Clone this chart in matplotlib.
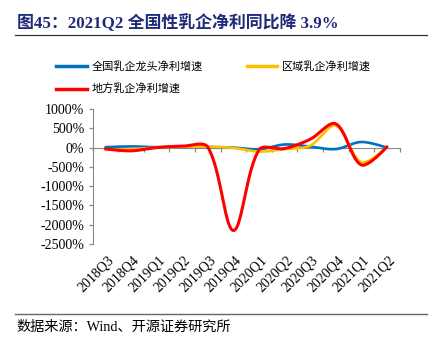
import numpy as np
import matplotlib
matplotlib.use("Agg")
import matplotlib.pyplot as plt
from matplotlib.lines import Line2D

plt.rcParams["font.family"] = ["Liberation Serif", "Noto Sans CJK SC"]

quarters = ["2018Q3", "2018Q4", "2019Q1", "2019Q2", "2019Q3", "2019Q4",
            "2020Q1", "2020Q2", "2020Q3", "2020Q4", "2021Q1", "2021Q2"]

national = [10, 30, 10, 20, 15, 0, -45, 80, 25, -40, 145, -3.9]
regional = [-50, -40, 0, 20, 20, -10, -105, -40, 50, 570, -380, 20]
local = [-35, -85, 0, 35, 10, -2150, -60, -25, 215, 615, -450, 20]

y_ticks = [1000, 500, 0, -500, -1000, -1500, -2000, -2500]

names = ["全国乳企龙头净利增速", "区域乳企净利增速", "地方乳企净利增速"]
colors = ["#0070C0", "#FFC000", "#FF0000"]

# pixel scale of the plot area, used so the smoothing behaves like on screen
PX_X, PX_Y = 25.6, 19.3 / 500


def smooth(vals, t=1 / 3, n=40):
    p = np.column_stack([np.arange(len(vals)) * PX_X, np.asarray(vals, float) * PX_Y])
    m = len(p)
    before = p.copy()
    after = p.copy()
    for i in range(1, m - 1):
        d01 = np.linalg.norm(p[i] - p[i - 1])
        d12 = np.linalg.norm(p[i + 1] - p[i])
        tan = p[i + 1] - p[i - 1]
        before[i] = p[i] - t * d01 / (d01 + d12) * tan
        after[i] = p[i] + t * d12 / (d01 + d12) * tan
    xs, ys = [], []
    s = np.linspace(0, 1, n)[:, None]
    for i in range(m - 1):
        b = ((1 - s) ** 3) * p[i] + 3 * ((1 - s) ** 2) * s * after[i] \
            + 3 * (1 - s) * s ** 2 * before[i + 1] + s ** 3 * p[i + 1]
        xs.append(b[:, 0] / PX_X)
        ys.append(b[:, 1] / PX_Y)
    return np.concatenate(xs), np.concatenate(ys)


fig = plt.figure(figsize=(4.39, 3.48), dpi=100)
ax = fig.add_axes([0.2112, 0.2989, 0.6993, 0.3879])

handles = []
for vals, name, c in zip([national, regional, local], names, colors):
    sx, sy = smooth(vals)
    lw = 2.2 if c == "#FF0000" else 1.9
    ax.plot(sx, sy, color=c, lw=lw, solid_capstyle="round", zorder=3)
    handles.append(Line2D([], [], color=c, lw=2.5, label=name))

ax.set_xlim(-0.5, len(quarters) - 0.5)
ax.set_ylim(-2500, 1000)

for s in ["top", "right"]:
    ax.spines[s].set_visible(False)
ax.spines["left"].set_color("#888888")
ax.spines["bottom"].set_color("#888888")
ax.spines["bottom"].set_position(("data", 0))
ax.spines["bottom"].set_zorder(2)

ax.set_yticks(y_ticks)
ax.set_yticklabels([f"{v}%" for v in y_ticks], fontsize=10)
ax.set_xticks(np.arange(-0.5, len(quarters)))
ax.set_xticklabels([])
ax.tick_params(axis="both", direction="out", length=3, color="#888888", width=0.9)
ax.tick_params(axis="y", pad=3)

for i, q in enumerate(quarters):
    ax.text(i + 0.05, -0.07, q, transform=ax.get_xaxis_transform(), rotation=45,
            rotation_mode="anchor", ha="right", va="top", fontsize=10)

# legend: row 1 blue / yellow, row 2 red
fig.legend(handles=[handles[0], handles[2], handles[1]], ncol=2, frameon=False,
           loc="upper left", bbox_to_anchor=(0.118, 0.837),
           prop={"family": "Noto Sans CJK SC", "size": 8},
           handlelength=2.75, handletextpad=0.4, columnspacing=4.0,
           labelspacing=1.05, borderaxespad=0)

fig.text(0.039, 0.934, "图45：2021Q2 全国性乳企净利同比降 3.9%", fontsize=12.2,
         fontweight="bold", color="#1F2A78", va="center", ha="left")
fig.add_artist(Line2D([0.034, 0.973], [0.8994, 0.8994], color="#333333", lw=0.9))

fig.add_artist(Line2D([0.034, 0.973], [0.0977, 0.0977], color="#666666", lw=1.0))
fig.text(0.037, 0.061, "数据来源：Wind、开源证券研究所", fontsize=10.2,
         family=["Liberation Serif", "Noto Sans CJK SC"], va="center", ha="left")

fig.savefig("out.png", dpi=100)
